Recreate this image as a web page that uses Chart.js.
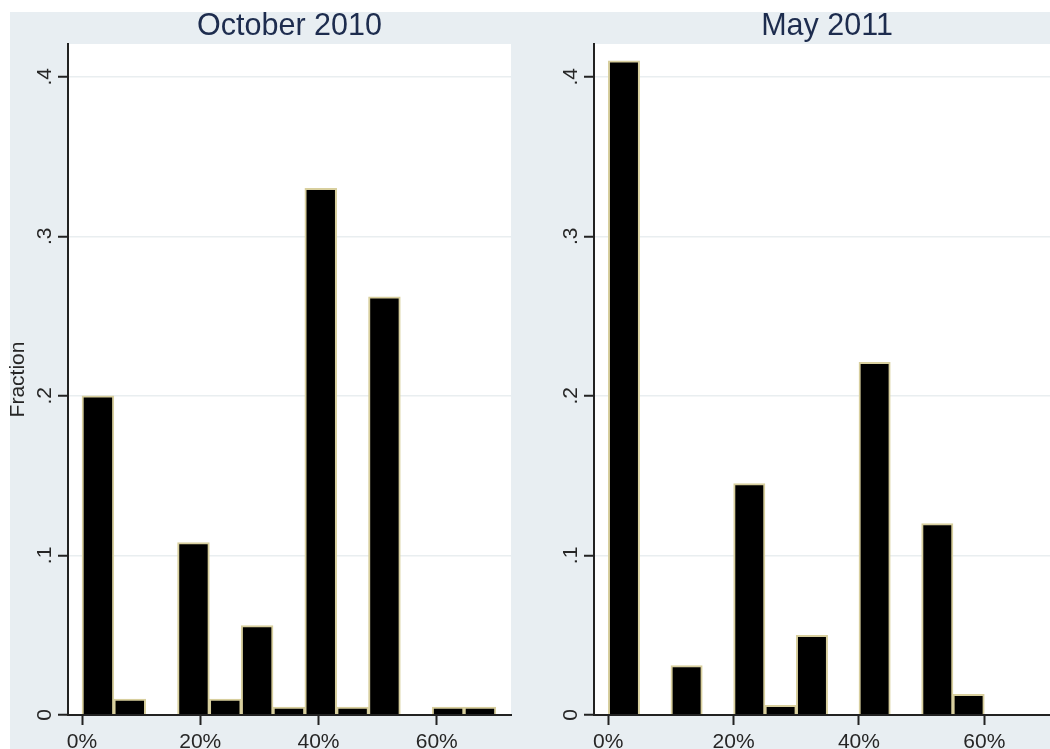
<!DOCTYPE html>
<html><head><meta charset="utf-8">
<script src="https://cdn.jsdelivr.net/npm/chart.js@4.4.1/dist/chart.umd.min.js"></script>
<style>
html,body{margin:0;padding:0;width:1050px;height:749px;overflow:hidden;background:#fff;position:relative;}
#bg{position:absolute;left:10px;top:12px;width:1040px;height:737px;background:#e8eef2;}
canvas{position:absolute;top:0;}
#c1{left:0;}
#c2{left:525px;}
</style></head><body>
<div id="bg"></div>
<canvas id="c1" width="525" height="775"></canvas>
<canvas id="c2" width="545" height="775"></canvas>
<script>
// ---- data ----
const panelTitles = ['October 2010', 'May 2011'];
const yAxisTitle = 'Fraction';

// October 2010: 13 bins from 0% to 70%
const oct2010BinCenters = [2.69, 8.08, 13.46, 18.85, 24.23, 29.62, 35.0, 40.38, 45.77, 51.15, 56.54, 61.92, 67.31];
const oct2010Fractions  = [0.200, 0.010, null, 0.108, 0.010, 0.056, 0.005, 0.330, 0.005, 0.262, null, 0.005, 0.005];

// May 2011: 12 bins of 5% from 0% to 60%
const may2011BinCenters = [2.5, 7.5, 12.5, 17.5, 22.5, 27.5, 32.5, 37.5, 42.5, 47.5, 52.5, 57.5];
const may2011Fractions  = [0.410, null, 0.031, null, 0.145, 0.006, 0.050, null, 0.221, null, 0.120, 0.013];

const xTickValues = [0, 20, 40, 60];
const xTickLabels = ['0%', '20%', '40%', '60%'];
const yTickValues = [0, 0.1, 0.2, 0.3, 0.4];
const yTickLabels = ['0', '.1', '.2', '.3', '.4'];

// ---- styling ----
const FONT = '"Liberation Sans", Arial, Helvetica, sans-serif';
const AXIS = '#222222';
const TEXT = '#262626';

const plotBg = {
  id: 'plotBg',
  beforeDraw(chart) {
    const {ctx, chartArea: a} = chart;
    ctx.save();
    ctx.fillStyle = '#ffffff';
    ctx.fillRect(a.left, a.top, a.right - a.left, a.bottom - a.top);
    ctx.restore();
  }
};

function makePanel(canvasId, title, centers, values, cfg) {
  return new Chart(document.getElementById(canvasId), {
    type: 'bar',
    data: {
      datasets: [{
        data: centers.map((x, i) => ({x: x, y: values[i]})),
        backgroundColor: '#000000',
        borderColor: '#d8cf9e',
        borderWidth: 2,
        barPercentage: 1,
        categoryPercentage: 1
      }]
    },
    options: {
      responsive: false,
      animation: false,
      devicePixelRatio: 1,
      layout: {padding: {left: 0, right: cfg.padRight, top: 0, bottom: 0}},
      plugins: {
        legend: {display: false},
        tooltip: {enabled: false},
        title: {
          display: true,
          text: title,
          fullSize: false,
          color: '#1d2c4e',
          font: {family: FONT, size: 30.5, weight: 'normal', lineHeight: 1.1},
          padding: {top: 10, bottom: 0.45}
        }
      },
      scales: {
        x: {
          type: 'linear',
          min: cfg.xMin,
          max: cfg.xMax,
          offset: false,
          afterBuildTicks: s => { s.ticks = xTickValues.map(v => ({value: v})); },
          afterFit: s => { s.height = 60; },
          grid: {display: true, drawOnChartArea: false, drawTicks: true, tickLength: 10, tickColor: AXIS, tickWidth: 2, offset: false},
          border: {display: true, color: AXIS, width: 2, z: 1},
          ticks: {
            color: TEXT,
            font: {family: FONT, size: 21},
            padding: 5,
            maxRotation: 0,
            minRotation: 0,
            callback: (v, i) => xTickLabels[i]
          }
        },
        y: {
          type: 'linear',
          min: 0,
          max: 0.4205,
          afterBuildTicks: s => { s.ticks = yTickValues.map(v => ({value: v})); },
          afterFit: s => { s.width = cfg.yWidth; },
          grid: {display: true, drawOnChartArea: true, color: '#e9eef0', lineWidth: 1.5, drawTicks: true, tickLength: 10, tickColor: AXIS, tickWidth: 2},
          border: {display: true, color: AXIS, width: 2, z: 1},
          title: cfg.showTitle ? {
            display: true,
            text: yAxisTitle,
            color: TEXT,
            font: {family: FONT, size: 21},
            padding: {top: 6, bottom: 0}
          } : {display: false},
          ticks: {
            color: TEXT,
            font: {family: FONT, size: 21},
            padding: 4,
            minRotation: 90,
            maxRotation: 90,
            crossAlign: 'center',
            callback: (v, i) => yTickLabels[i]
          }
        }
      }
    },
    plugins: [plotBg]
  });
}

makePanel('c1', panelTitles[0], oct2010BinCenters, oct2010Fractions,
  {xMin: -2.37, xMax: 72.56, yWidth: 68, padRight: 14, showTitle: true});
makePanel('c2', panelTitles[1], may2011BinCenters, may2011Fractions,
  {xMin: -2.28, xMax: 72.08, yWidth: 69, padRight: 10, showTitle: false});
</script>
</body></html>
